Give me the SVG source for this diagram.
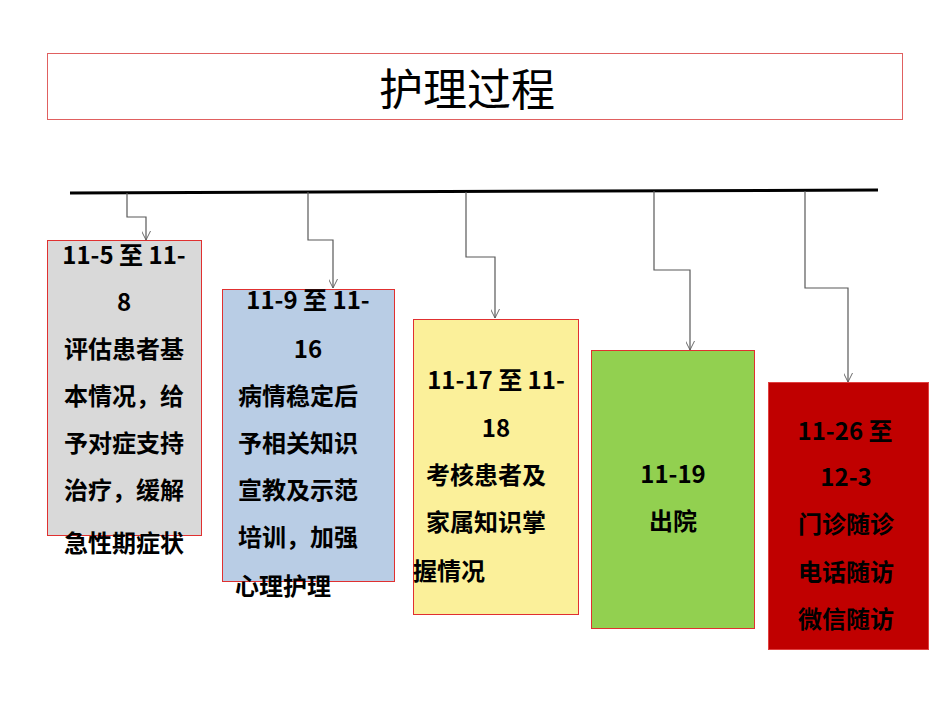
<svg xmlns="http://www.w3.org/2000/svg" width="950" height="713" viewBox="0 0 950 713">
<defs>
<style>
.t{font-family:"Noto Sans CJK SC","Noto Sans",sans-serif;font-size:24px;font-weight:bold;fill:#000}
.c{fill:none;stroke:#595959;stroke-width:1.2}
</style>
<marker id="a" viewBox="0 0 10 10" refX="10" refY="5" markerWidth="9" markerHeight="9" orient="auto" markerUnits="userSpaceOnUse"><path d="M0 0L10 5L0 10" fill="none" stroke="#595959"/></marker>
</defs>
<rect width="950" height="713" fill="#fff"/>
<g id="title"><rect x="47.5" y="53.5" width="855" height="66" fill="#fff" stroke="#e06060"/>
<text x="467" y="106" text-anchor="middle" style="font-family:'Noto Sans CJK SC',sans-serif;font-size:44px">护理过程</text></g>
<g id="connectors">
<line x1="70" y1="193" x2="878" y2="190" stroke="#000" stroke-width="3"/>
<path class="c" d="M127 193V217H146V240" marker-end="url(#a)"/>
<path class="c" d="M308 192V240H333V288" marker-end="url(#a)"/>
<path class="c" d="M466 192V257H495V318" marker-end="url(#a)"/>
<path class="c" d="M654 191V270H690V350" marker-end="url(#a)"/>
<path class="c" d="M805 191V288H848V382" marker-end="url(#a)"/>
</g>
<g id="n1"><rect x="47.5" y="240.5" width="154" height="295" fill="#d9d9d9" stroke="#e03030"/>
<text class="t" text-anchor="middle" x="124"><tspan x="124" y="264">11-5 至 11-</tspan><tspan x="124" y="311">8</tspan><tspan x="124" y="358">评估患者基</tspan><tspan x="124" y="405">本情况，给</tspan><tspan x="124" y="452">予对症支持</tspan><tspan x="124" y="499">治疗，缓解</tspan><tspan x="124" y="552">急性期症状</tspan></text></g>
<g id="n2"><rect x="222.5" y="289.5" width="172" height="292" fill="#b9cde5" stroke="#e03030"/>
<text class="t" text-anchor="middle"><tspan x="308" y="309">11-9 至 11-</tspan><tspan x="308" y="358">16</tspan><tspan x="298" y="405">病情稳定后</tspan><tspan x="298" y="452">予相关知识</tspan><tspan x="298" y="499">宣教及示范</tspan><tspan x="298" y="546">培训，加强</tspan><tspan x="283" y="595">心理护理</tspan></text></g>
<g id="n3"><rect x="413.5" y="319.5" width="165" height="295" fill="#fbf09a" stroke="#e03030"/>
<text class="t" text-anchor="middle"><tspan x="496" y="389">11-17 至 11-</tspan><tspan x="496" y="437">18</tspan><tspan x="486" y="484">考核患者及</tspan><tspan x="486" y="531">家属知识掌</tspan><tspan x="449" y="580">握情况</tspan></text></g>
<g id="n4"><rect x="591.5" y="350.5" width="163" height="278" fill="#92d050" stroke="#e03030"/>
<text class="t" text-anchor="middle"><tspan x="673" y="483">11-19</tspan><tspan x="673" y="530">出院</tspan></text></g>
<g id="n5"><rect x="768.5" y="382.5" width="160" height="267" fill="#c00000" stroke="#e04040"/>
<text class="t" text-anchor="middle"><tspan x="845" y="440">11-26 至</tspan><tspan x="846" y="486">12-3</tspan><tspan x="846" y="533">门诊随诊</tspan><tspan x="846" y="581">电话随访</tspan><tspan x="846" y="628">微信随访</tspan></text></g>
</svg>
